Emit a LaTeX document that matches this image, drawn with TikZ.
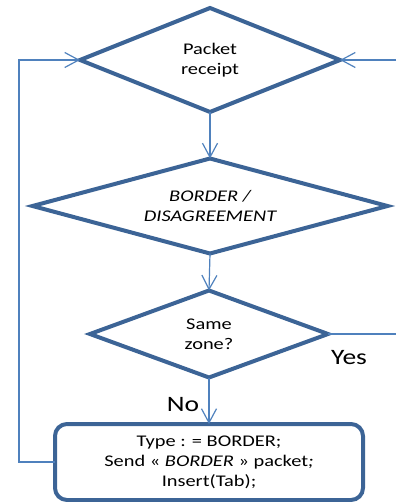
\documentclass[tikz,border=0pt]{standalone}
\usepackage{fontspec}
\setmainfont{Carlito}[FakeStretch=1.25]
\usepackage{tikz}
\usetikzlibrary{shapes.geometric, arrows.meta}
\definecolor{edgeblue}{RGB}{60,100,150}
\definecolor{lineblue}{RGB}{79,129,189}
\tikzset{decision/.style={diamond, draw=edgeblue, line width=4pt, inner sep=0pt,
    outer sep=0pt, align=center, font=\fontsize{16.3}{20}\selectfont},
  process/.style={rectangle, rounded corners=12pt, draw=edgeblue, line width=4pt,
    outer sep=0pt, align=center, font=\fontsize{16.3}{20}\selectfont},
  flow/.style={draw=lineblue, line width=1.2pt},
  answer/.style={font=\fontsize{22}{24}\selectfont}}

\begin{document}
\begin{tikzpicture}[x=1pt, y=-1pt, >={Straight Barb[length=14pt,width=15pt]}]
    \useasboundingbox (0,0) rectangle (396,502);

    \node[decision, aspect=2.5, minimum width=260pt, minimum height=104pt]
      (receipt) at (210,60) {Packet\\receipt};
    \node[decision, aspect=3.7, minimum width=355pt, minimum height=95pt]
      (border) at (210,206) {\itshape BORDER /\\\itshape DISAGREEMENT};
    \node[decision, aspect=2.7, minimum width=238pt, minimum height=87pt]
      (zone) at (209,334) {Same\\zone?};
    \node[process, minimum width=308pt, minimum height=76pt]
      (send) at (209,462) {Type : = BORDER;\\
        Send « \textit{BORDER} » packet\textit{;}\\
        Insert(Tab);};

    \coordinate (loop-in) at (19,60);
    \coordinate (loop-out) at (19,462);
    \coordinate (right-in) at (396,60);
    \coordinate (yes-out) at (396,334);

    \draw[flow,->] (receipt.south) -- (border.north);
    \draw[flow,->] (border.south) -- (zone.north);
    \draw[flow,->] (zone.south) -- (send.north);
    \draw[flow] (zone.east) -- (yes-out);
    \draw[flow,->] (send.west) -- (loop-out) -- (loop-in) -- (receipt.west);
    \draw[flow,->] (right-in) -- (receipt.east);

    \node[answer] (yes) at (349,358) {Yes};
    \node[answer] (no) at (183,405) {No};
\end{tikzpicture}
\end{document}
